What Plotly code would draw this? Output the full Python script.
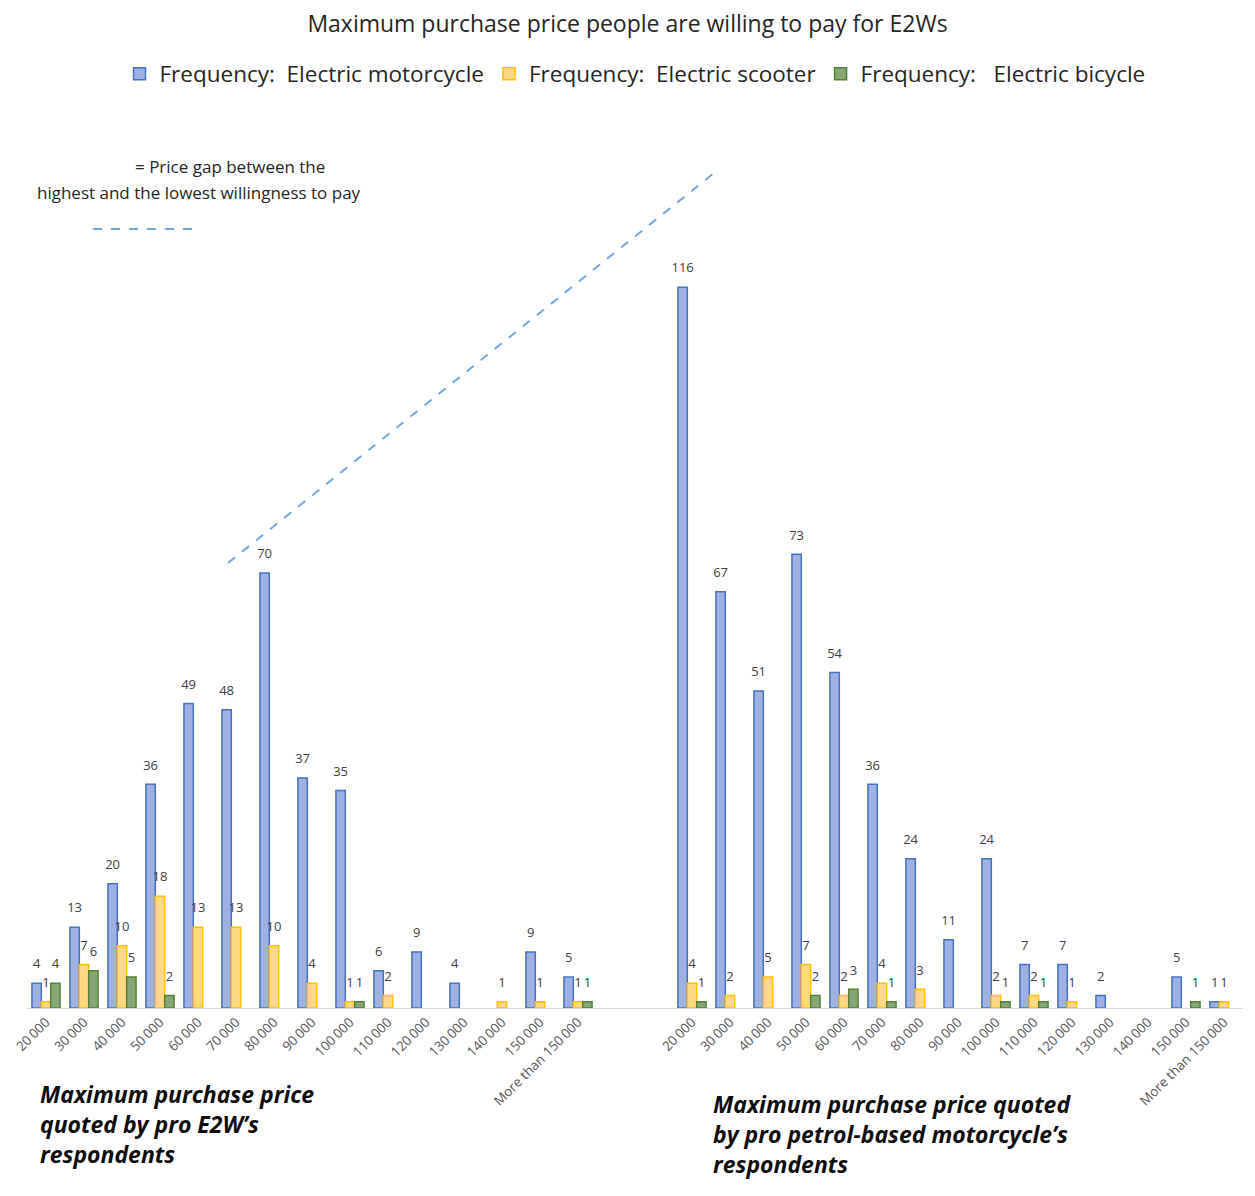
import plotly.graph_objects as go

# Price brackets (same set for both respondent groups)
price_labels = ["20\u2009000", "30\u2009000", "40\u2009000", "50\u2009000", "60\u2009000",
                "70\u2009000", "80\u2009000", "90\u2009000", "100\u2009000", "110\u2009000",
                "120\u2009000", "130\u2009000", "140\u2009000", "150\u2009000",
                "More than 150\u2009000"]

# Pro E2W respondents
e2w_motorcycle = [4, 13, 20, 36, 49, 48, 70, 37, 35, 6, 9, 4, None, 9, 5]
e2w_scooter = [1, 7, 10, 18, 13, 13, 10, 4, 1, 2, None, None, 1, 1, 1]
e2w_bicycle = [4, 6, 5, 2, None, None, None, None, 1, None, None, None, None, None, 1]

# Pro petrol-based motorcycle respondents
petrol_motorcycle = [116, 67, 51, 73, 54, 36, 24, 11, 24, 7, 7, 2, None, 5, 1]
petrol_scooter = [4, 2, 5, 7, 2, 4, 3, None, 2, 2, 1, None, None, None, 1]
petrol_bicycle = [1, None, None, 2, 3, 1, None, None, 1, 1, None, None, None, 1, None]

series_names = ["Frequency:  Electric motorcycle", "Frequency:  Electric scooter",
                "Frequency:   Electric bicycle"]

# Two blank slots separate the two respondent groups on a shared axis
GAP = 2
n = len(price_labels)
x_left = list(range(n))
x_right = [n + GAP + i for i in range(n)]
x_all = x_left + x_right
tick_text = price_labels + price_labels

fills = ["#9DB1E3", "#FFD886", "#87A676"]
borders = ["#4472C4", "#FFC000", "#548235"]
values = [e2w_motorcycle + petrol_motorcycle,
          e2w_scooter + petrol_scooter,
          e2w_bicycle + petrol_bicycle]

BARGAP = 0.26
Y_MAX = 140
PLOT_H = 870
bar_w = (1 - BARGAP) / len(values)
label_lift = 18 * Y_MAX / PLOT_H  # value labels sit ~18 px above each bar top

FONT = "Open Sans"
fig = go.Figure()
for i, (name, vals, fc, bc) in enumerate(zip(series_names, values, fills, borders)):
    fig.add_trace(go.Bar(
        x=x_all, y=vals, name=name,
        marker=dict(color=fc, line=dict(color=bc, width=1.5)),
    ))
for i, vals in enumerate(values):
    shift = (i - 1) * bar_w
    pts = [(x + shift, v) for x, v in zip(x_all, vals) if v is not None]
    fig.add_trace(go.Scatter(
        x=[p[0] for p in pts], y=[p[1] + label_lift for p in pts],
        text=[str(p[1]) for p in pts], mode="text", textposition="middle center",
        textfont=dict(family=FONT, size=13, color="#404040"),
        showlegend=False, hoverinfo="skip", cliponaxis=False,
    ))

fig.update_layout(
    width=1255, height=1196,
    margin=dict(l=27, r=12, t=138, b=188),
    paper_bgcolor="white", plot_bgcolor="white",
    barmode="group", bargap=BARGAP, bargroupgap=0,
    title=dict(text="Maximum purchase price people are willing to pay for E2Ws",
               x=0.5, xanchor="center", xref="container",
               y=1 - 24 / 1196, yanchor="middle", yref="container",
               font=dict(family=FONT, size=23, color="#262626")),
    legend=dict(orientation="h", x=0.5, xanchor="center",
                y=1 + (138 - 74) / PLOT_H, yanchor="middle",
                font=dict(family=FONT, size=22.5, color="#262626"),
                itemclick=False, traceorder="normal"),
    xaxis=dict(tickmode="array", tickvals=x_all, ticktext=tick_text,
               tickangle=-45, range=[-0.5, 2 * n + GAP - 0.5],
               showline=True, linecolor="#D9D9D9", linewidth=1,
               showgrid=False, zeroline=False, ticks="",
               tickfont=dict(family=FONT, size=13.5, color="#595959")),
    yaxis=dict(range=[0, Y_MAX], showticklabels=False, showgrid=False,
               zeroline=False, showline=False),
    showlegend=True,
)

# Explanatory note for the dashed line
fig.add_annotation(text="= Price gap between the", xref="paper", yref="paper",
                   x=(230 - 27) / 1216, y=(1008 - 166) / PLOT_H, showarrow=False,
                   xanchor="center", yanchor="middle",
                   font=dict(family=FONT, size=17, color="#262626"))
fig.add_annotation(text="highest and the lowest willingness to pay", xref="paper", yref="paper",
                   x=(199 - 27) / 1216, y=(1008 - 192) / PLOT_H, showarrow=False,
                   xanchor="center", yanchor="middle",
                   font=dict(family=FONT, size=17, color="#262626"))
fig.add_shape(type="line", xref="paper", yref="paper",
              x0=(93 - 27) / 1216, x1=(198 - 27) / 1216,
              y0=(1008 - 229) / PLOT_H, y1=(1008 - 229) / PLOT_H,
              line=dict(color="#6FA8DC", width=2, dash="dash"))
fig.add_shape(type="line", xref="paper", yref="paper",
              x0=(228 - 27) / 1216, y0=(1008 - 563) / PLOT_H,
              x1=(714 - 27) / 1216, y1=(1008 - 173) / PLOT_H,
              line=dict(color="#6FA8DC", width=2, dash="dash"))

# Group captions under each half of the axis
fig.add_annotation(text="<b><i>Maximum purchase price<br>quoted by pro E2W\u2019s<br>respondents</i></b>",
                   xref="paper", yref="paper", x=(38 - 27) / 1216, y=(1008 - 1076) / PLOT_H,
                   xanchor="left", yanchor="top", align="left", showarrow=False,
                   font=dict(family=FONT, size=23, color="#0D0D0D"))
fig.add_annotation(text="<b><i>Maximum purchase price quoted<br>by pro petrol-based motorcycle\u2019s<br>respondents</i></b>",
                   xref="paper", yref="paper", x=(711 - 27) / 1216, y=(1008 - 1086) / PLOT_H,
                   xanchor="left", yanchor="top", align="left", showarrow=False,
                   font=dict(family=FONT, size=23, color="#0D0D0D"))

fig.write_html("out.html")
